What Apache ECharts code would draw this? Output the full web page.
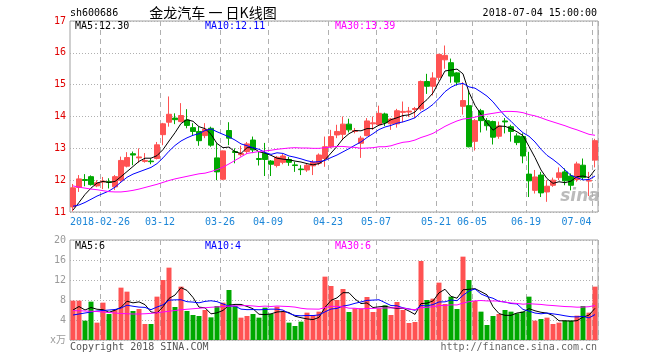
<!DOCTYPE html>
<html><head><meta charset="utf-8">
<script src="https://cdn.jsdelivr.net/npm/echarts@6/dist/echarts.min.js"></script>
<style>html,body{margin:0;padding:0;background:#fff}#c{width:660px;height:360px}</style>
</head><body><div id="c"></div>
<script>
const dates = ['2018-02-12','2018-02-13','2018-02-14','2018-02-22','2018-02-23','2018-02-26','2018-02-27','2018-02-28','2018-03-01','2018-03-02',
'2018-03-05','2018-03-06','2018-03-07','2018-03-08','2018-03-09','2018-03-12','2018-03-13','2018-03-14','2018-03-15','2018-03-16',
'2018-03-19','2018-03-20','2018-03-21','2018-03-22','2018-03-23','2018-03-26','2018-03-27','2018-03-28','2018-03-29','2018-03-30',
'2018-04-02','2018-04-03','2018-04-04','2018-04-09','2018-04-10','2018-04-11','2018-04-12','2018-04-13','2018-04-16','2018-04-17',
'2018-04-18','2018-04-19','2018-04-20','2018-04-23','2018-04-24','2018-04-25','2018-04-26','2018-04-27','2018-05-02','2018-05-03',
'2018-05-04','2018-05-07','2018-05-08','2018-05-09','2018-05-10','2018-05-11','2018-05-14','2018-05-15','2018-05-16','2018-05-17',
'2018-05-18','2018-05-21','2018-05-22','2018-05-23','2018-05-24','2018-05-25','2018-06-04','2018-06-05','2018-06-06','2018-06-07',
'2018-06-08','2018-06-11','2018-06-12','2018-06-13','2018-06-14','2018-06-15','2018-06-19','2018-06-20','2018-06-21','2018-06-22',
'2018-06-25','2018-06-26','2018-06-27','2018-06-28','2018-06-29','2018-07-02','2018-07-03','2018-07-04'];

const opens = [11.16,11.77,12.02,12.11,11.82,11.94,11.95,11.79,12.00,12.44,
12.83,12.70,12.59,12.60,12.68,13.43,13.82,13.95,13.84,13.89,
13.65,13.53,13.40,13.63,12.70,12.03,13.56,12.90,12.80,12.90,
13.26,12.68,12.84,12.60,12.46,12.56,12.65,12.48,12.35,12.32,
12.45,12.53,12.68,13.05,13.42,13.44,13.76,13.53,13.16,13.40,
13.77,13.74,14.08,13.77,13.77,14.13,14.14,14.22,14.24,15.10,
14.95,15.23,15.78,15.69,15.37,14.32,14.34,13.22,14.18,13.87,
13.84,13.38,13.86,13.68,13.39,13.37,12.19,11.68,12.16,11.63,
11.84,12.08,12.26,12.13,12.02,12.47,11.97,12.63];

const closes = [11.76,12.04,11.99,11.86,11.92,11.97,11.93,12.11,12.62,12.71,
12.79,12.73,12.62,12.58,13.11,13.77,14.07,13.90,14.03,13.72,
13.53,13.24,13.60,13.10,12.26,12.92,13.32,12.87,12.84,13.14,
12.95,12.65,12.65,12.50,12.72,12.76,12.56,12.46,12.33,12.47,
12.56,12.79,13.05,13.37,13.53,13.76,13.58,13.56,13.32,13.86,
13.80,14.10,13.80,13.92,14.18,14.16,14.17,14.25,15.10,14.95,
15.21,15.95,15.92,15.27,15.08,14.50,13.05,13.87,13.87,13.71,
13.35,13.70,13.83,13.53,13.18,12.76,11.98,12.10,11.60,11.81,
12.00,12.23,11.98,11.84,12.51,12.08,12.00,13.24];

const highs = [11.88,12.16,12.19,12.15,12.00,12.10,12.06,12.16,12.74,12.88,
12.90,13.00,12.85,12.68,13.20,13.80,14.63,14.10,14.42,14.23,
13.79,13.68,13.79,13.68,13.16,12.93,13.82,13.00,13.08,13.20,
13.37,12.90,13.17,12.63,12.76,12.82,12.73,12.58,12.47,12.52,
12.63,12.84,13.37,13.58,13.74,14.00,13.93,13.64,13.39,13.95,
14.00,14.34,14.12,13.95,14.24,14.47,14.30,14.30,15.13,15.34,
15.39,15.97,16.23,15.82,15.39,15.08,14.81,13.92,14.24,13.95,
13.87,13.84,13.95,13.74,13.47,13.47,12.89,12.32,12.26,12.00,
12.08,12.40,12.37,12.21,12.58,12.68,12.26,13.30];

const lows = [11.02,11.63,11.81,11.83,11.78,11.72,11.74,11.69,11.95,12.40,
12.47,12.55,12.55,12.50,12.65,13.10,13.68,13.76,13.82,13.63,
13.42,13.08,13.32,13.05,12.00,12.00,13.10,12.53,12.74,12.82,
12.85,12.46,12.13,12.13,12.40,12.50,12.45,12.26,12.16,12.26,
12.16,12.47,12.42,13.00,13.32,13.26,13.50,13.47,12.70,13.38,
13.58,13.72,13.70,13.58,13.65,13.82,13.98,13.95,14.18,14.71,
14.66,15.13,15.50,15.06,14.97,14.06,13.03,12.93,13.50,13.56,
13.12,13.30,13.47,13.21,13.10,12.53,11.47,11.58,11.47,11.32,
11.79,12.00,11.84,11.68,11.95,12.00,11.50,12.40];

const volumes = [7.87,7.87,3.87,7.67,3.47,7.47,5.2,6.0,10.47,9.67,
5.8,6.2,3.2,3.2,8.67,12.0,14.47,6.6,10.67,5.8,
5.0,4.8,6.0,4.53,6.8,7.47,10.0,6.8,4.47,4.8,
5.2,4.47,6.47,5.2,6.67,5.67,3.47,2.8,3.67,5.47,
5.0,5.67,12.67,10.8,8.0,10.2,5.6,6.33,6.33,8.6,
5.6,6.33,6.93,5.0,7.6,6.0,3.4,3.6,15.8,8.0,
8.27,11.47,7.2,8.67,6.2,16.67,12.0,7.8,5.67,3.0,
4.8,5.2,6.0,5.67,5.33,5.67,8.67,3.87,4.2,4.47,
3.2,3.47,3.87,3.87,4.87,6.8,5.47,10.67];

const ma5 = [11.06,11.3,11.55,11.75,11.91,11.96,11.93,11.96,12.11,12.27,12.43,12.59,12.69,12.69,12.77,12.96,13.23,13.49,13.78,13.90,13.85,13.68,13.62,13.44,13.15,13.02,13.04,12.89,12.84,13.02,13.02,12.89,12.85,12.78,12.69,12.66,12.64,12.60,12.57,12.52,12.48,12.52,12.64,12.85,13.06,13.30,13.46,13.56,13.55,13.62,13.62,13.73,13.78,13.90,13.96,14.03,14.05,14.14,14.37,14.53,14.74,15.09,15.43,15.46,15.49,15.34,14.76,14.35,14.07,13.80,13.57,13.70,13.69,13.62,13.52,13.40,13.06,12.71,12.32,12.05,11.90,11.95,11.92,11.97,12.11,12.13,12.08,12.33];
const ma10 = [11.18,11.22,11.3,11.4,11.5,11.58,11.66,11.78,11.94,12.09,12.19,12.26,12.33,12.40,12.52,12.70,12.91,13.09,13.23,13.33,13.41,13.46,13.56,13.61,13.52,13.44,13.36,13.26,13.14,13.08,13.02,12.97,12.87,12.81,12.86,12.84,12.76,12.72,12.67,12.61,12.57,12.58,12.62,12.71,12.79,12.89,12.99,13.10,13.20,13.34,13.46,13.59,13.67,13.72,13.79,13.83,13.89,13.96,14.13,14.24,14.38,14.57,14.78,14.92,15.01,15.04,14.93,14.89,14.77,14.64,14.46,14.23,14.02,13.85,13.66,13.49,13.38,13.20,12.97,12.78,12.65,12.50,12.32,12.15,12.08,12.01,12.02,12.13];
const ma30 = [11.82,11.78,11.75,11.72,11.70,11.67,11.64,11.63,11.63,11.65,11.68,11.72,11.77,11.82,11.87,11.93,11.99,12.04,12.08,12.12,12.16,12.20,12.22,12.27,12.33,12.41,12.51,12.62,12.73,12.84,12.87,12.90,12.92,12.94,12.97,12.99,13.01,13.02,13.01,13.01,13.00,13.00,13.02,13.04,13.06,13.06,13.04,13.03,13.00,13.01,13.02,13.05,13.05,13.08,13.14,13.19,13.21,13.26,13.34,13.40,13.47,13.58,13.69,13.78,13.86,13.92,13.94,13.98,14.03,14.07,14.10,14.13,14.16,14.16,14.15,14.12,14.06,14.02,13.96,13.89,13.83,13.77,13.71,13.64,13.58,13.51,13.44,13.41];

const vma5 = [6.0,6.7,6.0,6.5,6.15,6.07,5.54,5.96,6.52,7.76,7.43,7.63,7.07,5.61,5.41,6.65,8.31,8.99,10.48,9.91,8.51,6.57,6.45,5.23,5.43,5.92,6.96,7.12,7.11,6.71,6.25,5.15,5.08,5.23,5.60,5.70,5.50,4.76,4.46,4.22,4.08,4.52,6.50,7.92,8.43,9.47,9.45,8.19,7.29,7.41,6.49,6.64,6.76,6.49,6.29,6.37,5.79,5.12,7.28,7.36,7.81,9.43,10.15,8.72,8.36,10.04,10.15,10.27,9.67,9.03,6.65,5.29,4.93,4.93,5.40,5.57,6.27,5.84,5.55,5.38,4.88,3.84,3.84,3.78,3.86,4.58,4.98,6.34];
const vma10 = [5.0,5.2,5.4,5.6,5.8,5.9,6.0,6.1,6.4,6.96,6.75,6.58,6.52,6.07,6.59,7.04,7.97,8.03,8.05,7.66,7.58,7.44,7.72,7.85,7.67,7.21,6.77,6.79,6.17,6.07,6.09,6.05,6.10,6.17,6.16,5.98,5.32,4.92,4.84,4.91,4.89,5.01,5.63,6.19,6.32,6.78,6.99,7.34,7.61,7.92,7.98,8.05,7.47,6.89,6.85,6.43,6.21,5.94,6.89,6.83,7.09,7.61,7.63,8.00,7.86,8.93,9.79,10.21,9.20,8.70,8.35,7.72,7.60,7.30,7.21,6.11,5.78,5.39,5.24,5.39,5.23,5.06,4.84,4.66,4.62,4.73,4.41,5.09];
const vma30 = [5.87,5.85,5.8,5.75,5.7,5.6,5.5,5.4,5.3,5.25,5.2,5.2,5.25,5.33,5.45,5.6,5.75,5.9,6.05,6.15,6.25,6.35,6.45,6.55,6.62,6.7,6.78,6.82,6.85,6.89,6.81,6.69,6.78,6.70,6.80,6.74,6.69,6.58,6.35,6.21,6.19,6.17,6.48,6.74,6.71,6.65,6.36,6.35,6.21,6.30,6.32,6.37,6.40,6.42,6.44,6.39,6.17,6.07,6.45,6.55,6.65,6.89,6.91,7.03,7.01,7.38,7.66,7.83,7.90,7.81,7.81,7.79,7.57,7.40,7.31,7.16,7.26,7.18,7.11,6.97,6.89,6.79,6.69,6.65,6.56,6.59,6.66,6.90];

const tickLabels = ['2018-02-26','03-12','03-26','04-09','04-23','05-07','05-21','06-05','06-19','07-04'];
const priceTicks = [11,12,13,14,15,16,17];
const volTicks = [0,4,8,12,16,20];

const tickFull = tickLabels.map(t => t.length > 5 ? t : '2018-' + t);
const tickSet = new Set(tickFull);
const lastTick = tickFull[tickFull.length - 1];

const UP = '#ff5252', DOWN = '#00a800';
const MONO = '"DejaVu Sans Mono", monospace';
const kData = dates.map((d, i) => [opens[i], closes[i], lows[i], highs[i]]);
const volData = volumes.map((v, i) => ({value: v, itemStyle: {color: closes[i] >= opens[i] ? UP : DOWN}}));

const dashed = {show: true, interval: (i, v) => tickSet.has(v), lineStyle: {color: '#b0b0b0', type: [5, 4], width: 1}};
const dotted = {show: true, lineStyle: {color: '#b0b0b0', type: [1, 2], width: 1}};

function txt(text, x, y, color, align, font) {
  return {type: 'text', x: x, y: y, z: 100, silent: true,
    style: {text: text, fill: color, font: font || ('10px ' + MONO), align: align, verticalAlign: 'middle',
      textAlign: align, textVerticalAlign: 'middle'}};
}

const chart = echarts.init(document.getElementById('c'), null, {renderer: 'canvas'});
chart.setOption({
  animation: false,
  backgroundColor: '#fff',
  grid: [
    {left: 70, top: 21, width: 528, height: 191, show: true, borderColor: '#a0a0a0', borderWidth: 1, backgroundColor: 'transparent'},
    {left: 70, top: 240, width: 528, height: 100, show: true, borderColor: '#a0a0a0', borderWidth: 1, backgroundColor: 'transparent'}
  ],
  xAxis: [
    {type: 'category', gridIndex: 0, data: dates, boundaryGap: true,
     axisLine: {show: false}, axisTick: {show: false},
     axisLabel: {show: true, interval: (i, v) => tickSet.has(v), margin: 5,
       formatter: (v) => {
         const k = tickFull.indexOf(v);
         const t = tickLabels[k];
         return v === lastTick ? '{r|' + t + '}' : '{a|' + t + '}';
       },
       rich: {
         a: {fontFamily: MONO, fontSize: 10, color: '#1c86d8', padding: [0, 6, 0, 0]},
         r: {fontFamily: MONO, fontSize: 10, color: '#1c86d8', padding: [0, 37, 0, 0]}
       }},
     splitLine: dashed},
    {type: 'category', gridIndex: 1, data: dates, boundaryGap: true,
     axisLine: {show: false}, axisTick: {show: false}, axisLabel: {show: false},
     splitLine: dashed}
  ],
  yAxis: [
    {type: 'value', gridIndex: 0, min: priceTicks[0], max: priceTicks[priceTicks.length - 1], interval: 1,
     axisLine: {show: false}, axisTick: {show: false},
     axisLabel: {color: '#e00000', fontFamily: MONO, fontSize: 10, margin: 4},
     splitLine: dotted},
    {type: 'value', gridIndex: 1, min: volTicks[0], max: volTicks[volTicks.length - 1], interval: 4,
     axisLine: {show: false}, axisTick: {show: false},
     axisLabel: {color: '#9a9a9a', fontFamily: MONO + ', "Noto Sans CJK SC"', fontSize: 10, margin: 4,
       formatter: (v) => v === 0 ? 'x万' : String(v)},
     splitLine: dotted}
  ],
  series: [
    {type: 'candlestick', xAxisIndex: 0, yAxisIndex: 0, data: kData, barWidth: 5,
     itemStyle: {color: UP, color0: DOWN, borderColor: UP, borderColor0: DOWN, borderWidth: 1}},
    {type: 'line', xAxisIndex: 0, yAxisIndex: 0, data: ma5, symbol: 'none', lineStyle: {color: '#000', width: 1}},
    {type: 'line', xAxisIndex: 0, yAxisIndex: 0, data: ma10, symbol: 'none', lineStyle: {color: '#0000ff', width: 1}},
    {type: 'line', xAxisIndex: 0, yAxisIndex: 0, data: ma30, symbol: 'none', lineStyle: {color: '#ff00ff', width: 1}},
    {type: 'bar', xAxisIndex: 1, yAxisIndex: 1, data: volData, barWidth: 5},
    {type: 'line', xAxisIndex: 1, yAxisIndex: 1, data: vma5, symbol: 'none', lineStyle: {color: '#000', width: 1}},
    {type: 'line', xAxisIndex: 1, yAxisIndex: 1, data: vma10, symbol: 'none', lineStyle: {color: '#0000ff', width: 1}},
    {type: 'line', xAxisIndex: 1, yAxisIndex: 1, data: vma30, symbol: 'none', lineStyle: {color: '#ff00ff', width: 1}}
  ],
  graphic: [
    txt('sh600686', 70, 13, '#000', 'left'),
    txt('金龙汽车 一 日K线图', 213, 13, '#000', 'center', '14px "Noto Sans CJK SC"'),
    txt('2018-07-04 15:00:00', 597, 13, '#000', 'right'),
    txt('MA5:12.30', 75, 26, '#000', 'left'),
    txt('MA10:12.11', 205, 26, '#0000ff', 'left'),
    txt('MA30:13.39', 335, 26, '#ff00ff', 'left'),
    txt('MA5:6', 75, 246, '#000', 'left'),
    txt('MA10:4', 205, 246, '#0000ff', 'left'),
    txt('MA30:6', 335, 246, '#ff00ff', 'left'),
    txt('Copyright 2018 SINA.COM', 70, 347, '#555', 'left'),
    txt('http://finance.sina.com.cn', 597, 347, '#666', 'right'),
    txt('sina', 580, 197, 'rgba(170,170,170,0.8)', 'center', 'italic bold 17px "DejaVu Sans"')
  ]
});
</script>
</body></html>
